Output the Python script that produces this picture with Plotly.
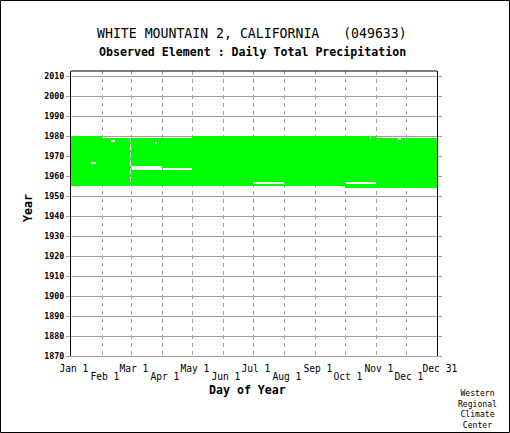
import plotly.graph_objects as go

# ---------------- data ----------------
years = list(range(1954, 1980))          # rows of the availability chart (1954..1979)
# days use leap-year numbering (Feb 29 = day 60, Mar 1 = day 61, Dec 31 = day 366)
gap_year = [1954, 1956, 1956, 1963, 1964, 1966, 1976, 1977, 1978, 1979, 1979, 1979]
gap_start = [1, 183, 275, 61, 61, 21, 85, 41, 328, 32, 300, 306]
gap_end = [274, 213, 305, 121, 91, 25, 86, 44, 330, 121, 300, 366]

row1_days = [1, 61, 122, 183, 245, 306, 367]
row1_labels = ["Jan 1", "Mar 1", "May 1", "Jul 1", "Sep 1", "Nov 1", "Dec 31"]
row2_days = [32, 92, 153, 214, 275, 336]
row2_labels = ["Feb 1", "Apr 1", "Jun 1", "Aug 1", "Oct 1", "Dec 1"]
year_ticks = list(range(1870, 2011, 10))

title = "WHITE MOUNTAIN 2, CALIFORNIA\u00a0\u00a0\u00a0(049633)"
subtitle = "Observed Element : Daily Total Precipitation"

# ---------------- build availability matrix ----------------
ndays = 366
z = []
for yr in years:
    row = [1] * ndays
    leap = (yr % 4 == 0 and yr % 100 != 0) or yr % 400 == 0
    if not leap:
        row[60 - 1] = None   # no Feb 29
    for gy, gs, ge in zip(gap_year, gap_start, gap_end):
        if gy == yr:
            for d in range(gs, ge + 1):
                row[d - 1] = None
    z.append(row)

x_edges = list(range(1, ndays + 2))
y_edges = years + [years[-1] + 1]

# ---------------- layout geometry ----------------
W_FIG, H_FIG = 510, 433
L, R, T, B = 71, 73, 71, 77
PW = W_FIG - L - R
PH = H_FIG - T - B


def px(xpix):
    return (xpix - L) / PW


def py(ypix):
    return (T + PH - ypix) / PH


GRAY = "#a0a0a0"
MONO = "DejaVu Sans Mono"

fig = go.Figure()
fig.add_trace(go.Heatmap(
    x=x_edges, y=y_edges, z=z,
    colorscale=[[0, "#00ff00"], [1, "#00ff00"]],
    zmin=0, zmax=1, showscale=False, hoverinfo="skip",
    xaxis="x", yaxis="y",
))
fig.add_trace(go.Scatter(x=[], y=[], xaxis="x2", yaxis="y", showlegend=False))

fig.update_layout(
    width=W_FIG, height=H_FIG,
    margin=dict(l=L, r=R, t=T, b=B, pad=0),
    paper_bgcolor="white", plot_bgcolor="white",
    showlegend=False,
    xaxis=dict(
        range=[1, 367], tickmode="array", tickvals=row1_days,
        ticktext=["\u00a0" + s for s in row1_labels],
        showgrid=True, gridcolor=GRAY, griddash="4px,4px", gridwidth=1,
        ticks="", showline=True, linecolor=GRAY, linewidth=1,
        zeroline=False, ticklabelstandoff=3,
        tickfont=dict(family=MONO, size=9.6, color="black"),
    ),
    xaxis2=dict(
        range=[1, 367], overlaying="x", anchor="y", side="bottom",
        tickmode="array", tickvals=row2_days,
        ticktext=["\u00a0" + s for s in row2_labels],
        showgrid=True, gridcolor=GRAY, griddash="4px,4px", gridwidth=1,
        ticks="", showline=False, zeroline=False, ticklabelstandoff=13,
        tickfont=dict(family=MONO, size=9.6, color="black"),
    ),
    yaxis=dict(
        range=[1870, 2012.5], tickmode="array", tickvals=year_ticks,
        ticktext=[str(v) for v in year_ticks],
        showgrid=True, gridcolor=GRAY, gridwidth=1,
        ticks="outside", ticklen=4, tickcolor=GRAY, tickwidth=1,
        showline=True, linecolor="black", linewidth=1, mirror="ticks",
        zeroline=False,
        tickfont=dict(family=MONO, size=8.3, color="black", weight="bold"),
    ),
    shapes=[
        dict(type="line", xref="paper", yref="paper", x0=0, x1=1, y0=1, y1=1,
             line=dict(color="black", width=1), layer="above"),
        dict(type="rect", xref="paper", yref="paper",
             x0=px(0.5), x1=px(W_FIG - 0.5), y0=py(H_FIG - 0.5), y1=py(0.5),
             line=dict(color="black", width=1), fillcolor="rgba(0,0,0,0)", layer="above"),
    ],
    annotations=[
        dict(text=title, xref="paper", yref="paper", x=px(252), y=py(33),
             xanchor="center", yanchor="middle", showarrow=False,
             font=dict(family=MONO, size=13.2, color="black")),
        dict(text=subtitle, xref="paper", yref="paper", x=px(252.5), y=py(52),
             xanchor="center", yanchor="middle", showarrow=False,
             font=dict(family=MONO, size=11.6, color="black", weight="bold")),
        dict(text="Day of Year", xref="paper", yref="paper", x=px(247.5), y=py(390),
             xanchor="center", yanchor="middle", showarrow=False,
             font=dict(family=MONO, size=11.6, color="black", weight="bold")),
        dict(text="Year", xref="paper", yref="paper", x=px(28), y=py(208),
             xanchor="center", yanchor="middle", showarrow=False, textangle=-90,
             font=dict(family=MONO, size=11.6, color="black", weight="bold")),
        dict(text="Western<br>Regional<br>Climate<br>Center", xref="paper", yref="paper",
             x=px(477.5), y=py(409), xanchor="center", yanchor="middle", showarrow=False,
             align="center",
             font=dict(family=MONO, size=8.1, color="black")),
    ],
)

fig.write_html(
    "out.html",
    config={"displayModeBar": False},
    post_script="document.body.style.margin='0';document.body.style.overflow='hidden';",
)
